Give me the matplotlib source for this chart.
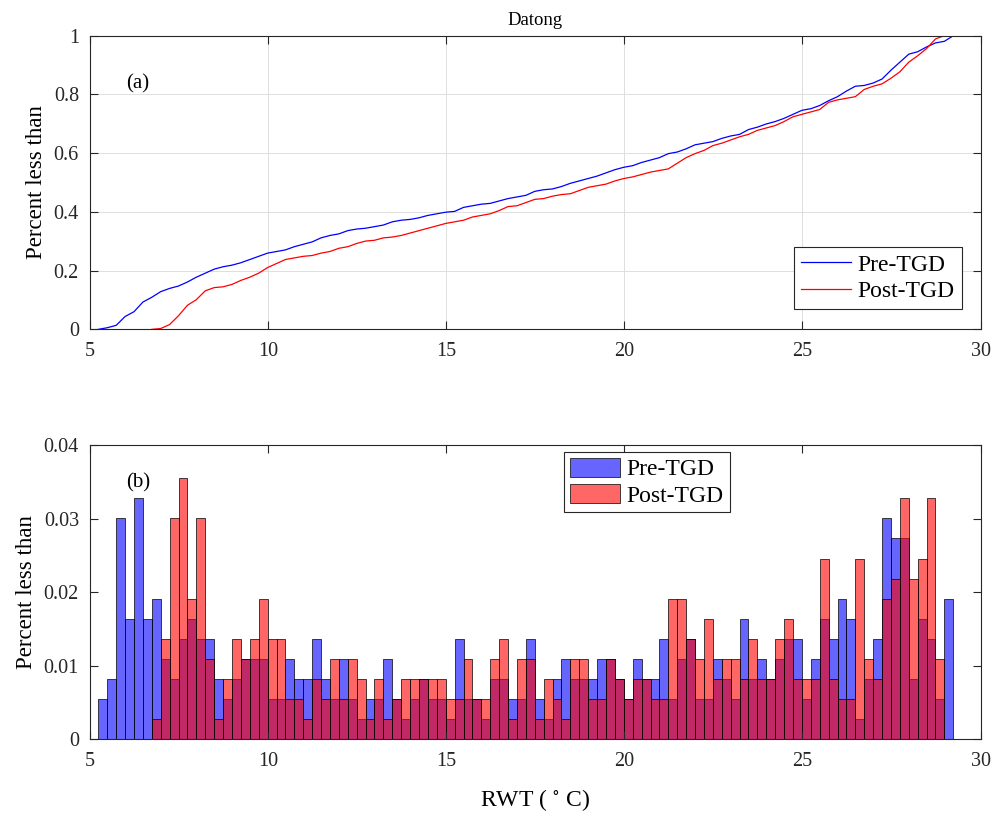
import matplotlib.pyplot as plt
import numpy as np

# 字体: 近似 MATLAB 的 Times 风格
plt.rcParams['font.family'] = 'serif'
plt.rcParams['font.serif'] = ['Liberation Serif', 'DejaVu Serif']
plt.rcParams['mathtext.fontset'] = 'stix'

# 1. 数据 (每个区间的天数, 区间宽 0.25 °C)
bin_start = 5.235
bin_width = 0.25
pre_counts = np.array([
    2, 3, 11, 6, 12, 6, 7, 4, 3, 5, 6, 5, 5, 3, 2, 3, 4, 4, 4, 2, 2, 4, 3, 3, 5,
    3, 2, 4, 2, 1, 2, 2, 4, 2, 1, 2, 3, 2, 2, 1, 5, 2, 2, 1, 3, 3, 2, 2,
    5, 2, 1, 3, 4, 3, 3, 3, 4, 4, 3, 2, 4, 3, 3, 5, 2, 4, 5, 2, 2, 4, 3, 2,
    6, 3, 4, 3, 4, 5, 5, 2, 4, 6, 5, 7, 6, 1, 3, 5, 11, 10, 10, 3, 6, 5, 2, 7])
post_counts = np.array([
    0, 0, 0, 0, 0, 0, 1, 5, 11, 13, 7, 11, 4, 1, 3, 5, 4, 5, 7, 5, 5, 2, 2, 1, 3,
    2, 4, 2, 4, 3, 1, 3, 1, 2, 3, 3, 3, 3, 3, 2, 2, 4, 2, 2, 4, 5, 1, 4,
    4, 1, 3, 2, 1, 4, 4, 2, 2, 4, 3, 2, 3, 3, 2, 2, 7, 7, 5, 4, 6, 3, 4, 4,
    3, 5, 3, 3, 5, 6, 3, 3, 3, 9, 3, 2, 2, 9, 4, 3, 7, 8, 12, 8, 9, 12, 4, 0])
series_names = ['Pre-TGD', 'Post-TGD']

edges = bin_start + bin_width * np.arange(len(pre_counts) + 1)
pre_p = pre_counts / pre_counts.sum()
post_p = post_counts / post_counts.sum()


def cdf_line(counts):
    # 累积分布, 只保留有数据的区间
    nz = np.nonzero(counts)[0]
    i0, i1 = nz[0], nz[-1] + 1
    y = np.concatenate([[0], np.cumsum(counts[i0:i1])]) / counts.sum()
    return edges[i0:i1 + 1], y


axis_color = '#262626'

fig = plt.figure(figsize=(9.97, 8.17), dpi=100)
ax1 = fig.add_axes([0.0903, 0.5969, 0.8932, 0.3594])
ax2 = fig.add_axes([0.0903, 0.0951, 0.8932, 0.3599])

# 2. (a) 累积分布
x, y = cdf_line(pre_counts)
ax1.plot(x, y, color='blue', lw=0.9, label=series_names[0])
x, y = cdf_line(post_counts)
ax1.plot(x, y, color='red', lw=0.9, label=series_names[1])
ax1.set_xlim(5, 30)
ax1.set_ylim(0, 1)
ax1.set_yticks([0, 0.2, 0.4, 0.6, 0.8, 1])
ax1.set_yticklabels(['0', '0.2', '0.4', '0.6', '0.8', '1'])
ax1.grid(True, color='#dedede', lw=0.7)
ax1.set_axisbelow(True)
ax1.set_title('Datong', fontsize=13.5, pad=8, color='black')
ax1.set_ylabel('Percent less than', fontsize=16.5, labelpad=5)
ax1.text(6.35, 0.835, '(a)', fontsize=15, ha='center', va='center')
leg1 = ax1.legend(loc='upper left', bbox_to_anchor=(0.7906, 0.2803), borderaxespad=0,
                  fontsize=17, handlelength=2.1, fancybox=False, edgecolor=axis_color,
                  framealpha=1, labelspacing=0.22, borderpad=0.3, handletextpad=0.3)
leg1.get_frame().set_linewidth(0.8)

# 3. (b) 直方图
ax2.bar(edges[:-1], pre_p, width=bin_width, align='edge', color=(0, 0, 1, 0.6),
        edgecolor='black', lw=0.5, label=series_names[0])
ax2.bar(edges[:-1], post_p, width=bin_width, align='edge', color=(1, 0, 0, 0.6),
        edgecolor='black', lw=0.5, label=series_names[1])
ax2.set_xlim(5, 30)
ax2.set_ylim(0, 0.04)
ax2.set_yticks([0, 0.01, 0.02, 0.03, 0.04])
ax2.set_yticklabels(['0', '0.01', '0.02', '0.03', '0.04'])
ax2.set_ylabel('Percent less than', fontsize=16.5, labelpad=5)
ax2.set_xlabel(r'RWT ( $^{\circ}$ C)', fontsize=17, labelpad=12)
ax2.text(6.35, 0.0349, '(b)', fontsize=15, ha='center', va='center')
leg2 = ax2.legend(loc='upper left', bbox_to_anchor=(0.5323, 0.9772), borderaxespad=0,
                  fontsize=17, handlelength=2.1, handleheight=0.85, fancybox=False,
                  edgecolor=axis_color, framealpha=1, labelspacing=0.15, borderpad=0.25,
                  handletextpad=0.3)
leg2.get_frame().set_linewidth(0.8)

for ax in (ax1, ax2):
    ax.set_xticks([5, 10, 15, 20, 25, 30])
    for s in ax.spines.values():
        s.set_color(axis_color)
        s.set_linewidth(0.8)
    ax.tick_params(direction='in', top=True, right=True, length=6, width=0.8,
                   color=axis_color, labelcolor=axis_color, labelsize=14.5)
    ax.tick_params(axis='x', pad=9)
    ax.tick_params(axis='y', pad=8)

plt.savefig('out.png', dpi=100)
